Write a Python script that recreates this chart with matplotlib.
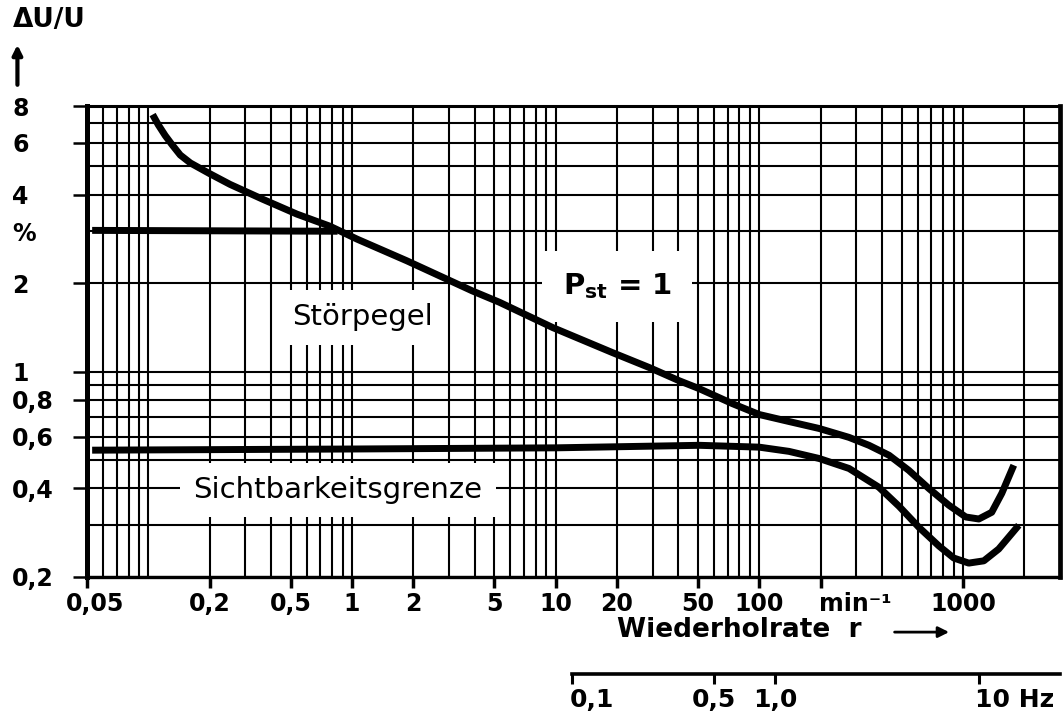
import matplotlib
matplotlib.use("Agg")
import matplotlib.pyplot as plt
import matplotlib.transforms as mtransforms
from matplotlib.ticker import FixedLocator, LogLocator, NullFormatter, NullLocator

# Störpegel curve (P_st = 1): repetition rate r in 1/min, voltage change in %
r_pst = [0.105, 0.112, 0.121, 0.131, 0.1435, 0.161, 0.199, 0.252, 0.366,
         0.537, 0.78, 1.06, 1.86, 3.9, 5.3, 9.7, 19, 29, 40.5, 50.8, 73.7,
         100, 140, 197, 276, 346, 434, 543, 681, 853, 1034, 1198, 1386,
         1553, 1779]
v_pst = [7.48, 6.9, 6.35, 5.9, 5.45, 5.12, 4.72, 4.33, 3.85,
         3.43, 3.12, 2.82, 2.38, 1.88, 1.72, 1.41, 1.16, 1.03, 0.93, 0.874,
         0.778, 0.714, 0.676, 0.640, 0.597, 0.561, 0.519, 0.461, 0.400,
         0.351, 0.320, 0.315, 0.332, 0.385, 0.480]

# flat part of the Störpegel at 3 %
r_pst_flat = [0.053, 0.85]
v_pst_flat = [3.02, 3.0]

# Sichtbarkeitsgrenze
r_sicht = [0.053, 1, 10, 50.8, 100, 140, 197, 276, 387, 486, 609, 763, 903,
           1069, 1268, 1500, 1882]
v_sicht = [0.54, 0.545, 0.55, 0.561, 0.553, 0.535, 0.506, 0.468, 0.404,
           0.348, 0.295, 0.255, 0.232, 0.223, 0.227, 0.249, 0.300]

x_ticks = [0.05, 0.2, 0.5, 1, 2, 5, 10, 20, 50, 100, 200, 1000]
x_labels = ["0,05", "0,2", "0,5", "1", "2", "5", "10", "20", "50", "100",
            "min⁻¹", "1000"]
y_ticks = [0.2, 0.4, 0.6, 0.8, 1, 2, 3, 4, 6, 8]
y_labels = ["0,2", "0,4", "0,6", "0,8", "1", "2", "%", "4", "6", "8"]
hz_ticks = [0.1, 0.5, 1.0, 10]
hz_labels = ["0,1", "0,5", "1,0", "10 Hz"]

RATE_PER_HZ = 120  # two voltage changes per period
CURVE_LW = 5
GRID_LW = 1.5
TICK_FS = 17

plt.rcParams["font.family"] = ["DejaVu Sans"]

fig = plt.figure(figsize=(10.64, 7.11), dpi=100)
ax = fig.add_axes([87 / 1064, 134 / 711, 973 / 1064, 471 / 711])

ax.set_xscale("log")
ax.set_yscale("log")
ax.set_xlim(0.05, 3000)
ax.set_ylim(0.2, 8)

# curves
ax.plot(r_pst, v_pst, color="black", lw=CURVE_LW, solid_capstyle="butt",
        solid_joinstyle="round", zorder=4)
ax.plot(r_pst_flat, v_pst_flat, color="black", lw=CURVE_LW,
        solid_capstyle="butt", zorder=4)
ax.plot(r_sicht, v_sicht, color="black", lw=CURVE_LW, solid_capstyle="butt",
        solid_joinstyle="round", zorder=4)

# grid on every log subdivision
ax.xaxis.set_minor_locator(LogLocator(base=10, subs=range(1, 10), numticks=20))
ax.yaxis.set_minor_locator(LogLocator(base=10, subs=range(1, 10), numticks=20))
ax.xaxis.set_minor_formatter(NullFormatter())
ax.yaxis.set_minor_formatter(NullFormatter())
ax.grid(which="both", color="black", lw=GRID_LW)
ax.set_axisbelow(True)
ax.tick_params(which="minor", length=0)

# ticks and labels
ax.xaxis.set_major_locator(FixedLocator(x_ticks))
ax.set_xticklabels(x_labels)
ax.yaxis.set_major_locator(FixedLocator(y_ticks))
ax.set_yticklabels(y_labels)
ax.tick_params(axis="x", which="major", length=8, width=2.5, pad=3,
               labelsize=TICK_FS)
ax.tick_params(axis="y", which="major", length=10, width=1.8, pad=44,
               labelsize=TICK_FS)
for lab in ax.get_xticklabels() + ax.get_yticklabels():
    lab.set_fontweight("bold")
for lab in ax.get_yticklabels():
    lab.set_ha("left")
ax.yaxis.get_major_ticks()[y_ticks.index(3)].tick1line.set_visible(False)

xlabs = ax.get_xticklabels()
xlabs[0].set_transform(xlabs[0].get_transform()
                       + mtransforms.ScaledTranslation(8 / 100, 0, fig.dpi_scale_trans))
xlabs[x_ticks.index(200)].set_ha("left")
xlabs[x_ticks.index(200)].set_transform(
    xlabs[x_ticks.index(200)].get_transform()
    + mtransforms.ScaledTranslation(-2 / 100, 0, fig.dpi_scale_trans))

for side, lw in (("left", 3.6), ("right", 3.4), ("top", 2.2), ("bottom", 2.4)):
    ax.spines[side].set_linewidth(lw)
    ax.spines[side].set_zorder(5)

# axis titles
ax.set_xlabel("Wiederholrate  r", fontsize=19, fontweight="bold",
              ha="left", va="center")
ax.xaxis.set_label_coords(0.545, -0.113)
ax.annotate("", xy=(0.886, -0.117), xytext=(0.830, -0.117),
            xycoords="axes fraction", annotation_clip=False,
            arrowprops=dict(arrowstyle="-|>", lw=2, color="black",
                            mutation_scale=16, shrinkA=0, shrinkB=0))

ax.set_ylabel("ΔU/U", rotation=0, fontsize=19, fontweight="bold",
              ha="left", va="center")
ax.yaxis.set_label_coords(-0.076, 1.183)
ax.annotate("", xy=(-0.0715, 1.13), xytext=(-0.0715, 1.045),
            xycoords="axes fraction", annotation_clip=False,
            arrowprops=dict(arrowstyle="-|>", lw=3, color="black",
                            mutation_scale=14, shrinkA=0, shrinkB=0))

# labels inside the chart
box = dict(boxstyle="square,pad=0.45", facecolor="white", edgecolor="none")
ax.text(0.283, 0.551, "Störpegel", transform=ax.transAxes, fontsize=21,
        ha="center", va="center", bbox=box, zorder=3)
ax.text(0.258, 0.184, "Sichtbarkeitsgrenze", transform=ax.transAxes,
        fontsize=21, ha="center", va="center", bbox=box, zorder=3)
ax.text(0.545, 0.617, r"P$_{\mathbf{st}}$ = 1", transform=ax.transAxes,
        fontsize=21, fontweight="bold", ha="center", va="center",
        bbox=dict(boxstyle="square,pad=0.7", facecolor="white",
                  edgecolor="none"), zorder=3)

# frequency scale in Hz below the chart
sec = ax.secondary_xaxis(-0.206, functions=(lambda r: r / RATE_PER_HZ,
                                            lambda f: f * RATE_PER_HZ))
sec.xaxis.set_major_locator(FixedLocator(hz_ticks))
sec.set_xticklabels(hz_labels)
sec.xaxis.set_minor_locator(NullLocator())
sec.spines["bottom"].set_bounds(0.1, 3000 / RATE_PER_HZ)
sec.spines["bottom"].set_linewidth(2.6)
sec.tick_params(axis="x", length=7, width=2.2, pad=3, labelsize=TICK_FS + 1)
hz_labs = sec.get_xticklabels()
for lab in hz_labs:
    lab.set_fontweight("bold")
hz_labs[0].set_ha("left")
hz_labs[0].set_transform(hz_labs[0].get_transform()
                         + mtransforms.ScaledTranslation(-2 / 100, 0, fig.dpi_scale_trans))
hz_labs[-1].set_ha("left")
hz_labs[-1].set_transform(hz_labs[-1].get_transform()
                          + mtransforms.ScaledTranslation(-4 / 100, 0, fig.dpi_scale_trans))

fig.savefig("out.png", dpi=100)
